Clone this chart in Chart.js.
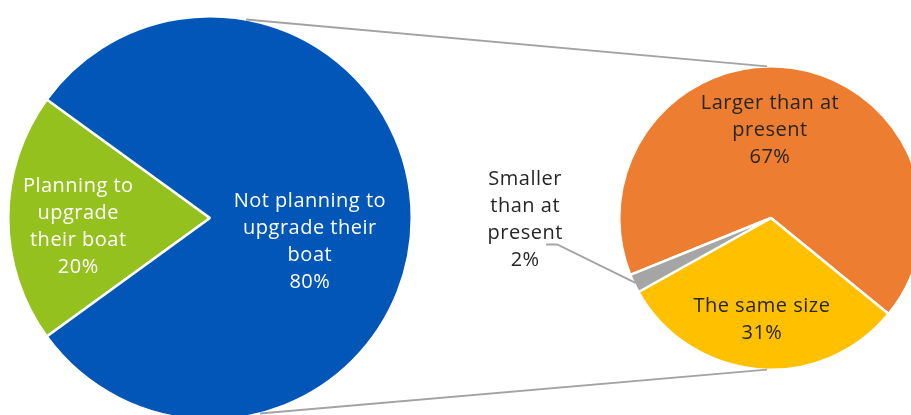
<!DOCTYPE html>
<html lang="en">
<head>
<meta charset="UTF-8">
<title>Boat upgrade plans</title>
<script src="https://cdn.jsdelivr.net/npm/chart.js"></script>
<style>
  html, body { margin: 0; padding: 0; overflow: hidden; background: #fff; }
  body { width: 911px; height: 415px; position: relative; }
  #leftBox { position: absolute; left: 7px; top: 15px; width: 406px; height: 406px; }
  #rightBox { position: absolute; left: 618px; top: 65px; width: 306px; height: 306px; }
  #overlay { position: absolute; left: 0; top: 0; pointer-events: none; }
</style>
</head>
<body>
  <div id="leftBox"><canvas id="leftPie"></canvas></div>
  <div id="rightBox"><canvas id="rightPie"></canvas></div>
  <canvas id="overlay" width="911" height="415"></canvas>

<script>
// main pie
const leftLabels = [['Planning to', 'upgrade', 'their boat'], ['Not planning to', 'upgrade their', 'boat']];
const leftValues = [20, 80];
const leftColors = ['#95C11F', '#0156B8'];

// breakdown of "planning to upgrade"
const rightLabels = [['Larger than at', 'present'], ['The same size'], ['Smaller', 'than at', 'present']];
const rightValues = [67, 31, 2];
const rightColors = ['#ED7D31', '#FFC000', '#A5A5A5'];

const FONT = '"Open Sans", sans-serif';
const FONT_SIZE = 20;
const LINE_H = 27;

function drawLines(ctx, lines, x, y, color) {
  ctx.save();
  ctx.font = FONT_SIZE + 'px ' + FONT;
  ctx.letterSpacing = '0.5px';
  ctx.fillStyle = color;
  ctx.textAlign = 'center';
  ctx.textBaseline = 'middle';
  const top = y - (lines.length - 1) * LINE_H / 2;
  lines.forEach((l, i) => ctx.fillText(l, x, top + i * LINE_H));
  ctx.restore();
}

// labels inside the slices, placed as fractions of the radius from the centre
const sliceLabels = {
  id: 'sliceLabels',
  afterDatasetsDraw(chart, args, opts) {
    const meta = chart.getDatasetMeta(0);
    const data = chart.data.datasets[0].data;
    meta.data.forEach((arc, i) => {
      const p = opts.pos[i];
      if (!p) return;
      const lines = [].concat(chart.data.labels[i], data[i] + '%');
      drawLines(chart.ctx, lines, arc.x + p[0] * arc.outerRadius, arc.y + p[1] * arc.outerRadius, opts.color);
    });
  }
};

function makePie(id, labels, values, colors, rotation, labelOpts) {
  return new Chart(document.getElementById(id), {
    type: 'pie',
    data: {
      labels: labels,
      datasets: [{
        data: values,
        backgroundColor: colors,
        borderColor: '#ffffff',
        borderWidth: 2.5
      }]
    },
    options: {
      animation: false,
      responsive: true,
      maintainAspectRatio: false,
      rotation: rotation,
      layout: { padding: 0 },
      plugins: {
        legend: { display: false },
        tooltip: { enabled: false },
        sliceLabels: labelOpts
      }
    },
    plugins: [sliceLabels]
  });
}

const leftChart = makePie('leftPie', leftLabels, leftValues, leftColors, 234,
  { color: '#ffffff', pos: [[-0.653, 0.045], [0.495, 0.12]] });
const rightChart = makePie('rightPie', rightLabels, rightValues, rightColors, 248,
  { color: '#262626', pos: [[-0.007, -0.58], [-0.06, 0.668]] });

// connector lines and the outside label for the tiny slice
function overlay() {
  const cv = document.getElementById('overlay');
  const ctx = cv.getContext('2d');
  const L = leftChart.getDatasetMeta(0).data[0];
  const R = rightChart.getDatasetMeta(0).data[0];
  const lb = document.getElementById('leftBox').getBoundingClientRect();
  const rb = document.getElementById('rightBox').getBoundingClientRect();
  const lc = { x: lb.left + L.x, y: lb.top + L.y, r: L.outerRadius };
  const rc = { x: rb.left + R.x, y: rb.top + R.y, r: R.outerRadius };
  const pt = (c, deg, f) => {
    const a = deg * Math.PI / 180;
    return [c.x + Math.cos(a) * c.r * (f || 1), c.y + Math.sin(a) * c.r * (f || 1)];
  };

  ctx.strokeStyle = '#A3A3A3';
  ctx.lineWidth = 1.8;
  [[-79.7, -91.5], [75.7, 91.5]].forEach(([a1, a2]) => {
    const p1 = pt(lc, a1), p2 = pt(rc, a2);
    ctx.beginPath();
    ctx.moveTo(p1[0], p1[1]);
    ctx.lineTo(p2[0], p2[1]);
    ctx.stroke();
  });

  // "Smaller than at present" label with leader line
  const g = rightChart.getDatasetMeta(0).data[2];
  const mid = (g.startAngle + g.endAngle) / 2 * 180 / Math.PI;
  const end = pt(rc, mid, 0.99);
  const lx = rc.x - 1.62 * rc.r, ly = rc.y + 0.01 * rc.r;
  ctx.beginPath();
  ctx.moveTo(lx + 21, ly + 25);
  ctx.lineTo(lx + 32, ly + 25);
  ctx.lineTo(end[0], end[1]);
  ctx.stroke();
  drawLines(ctx, [].concat(rightLabels[2], rightValues[2] + '%'), lx, ly, '#262626');
}
overlay();
</script>
</body>
</html>
